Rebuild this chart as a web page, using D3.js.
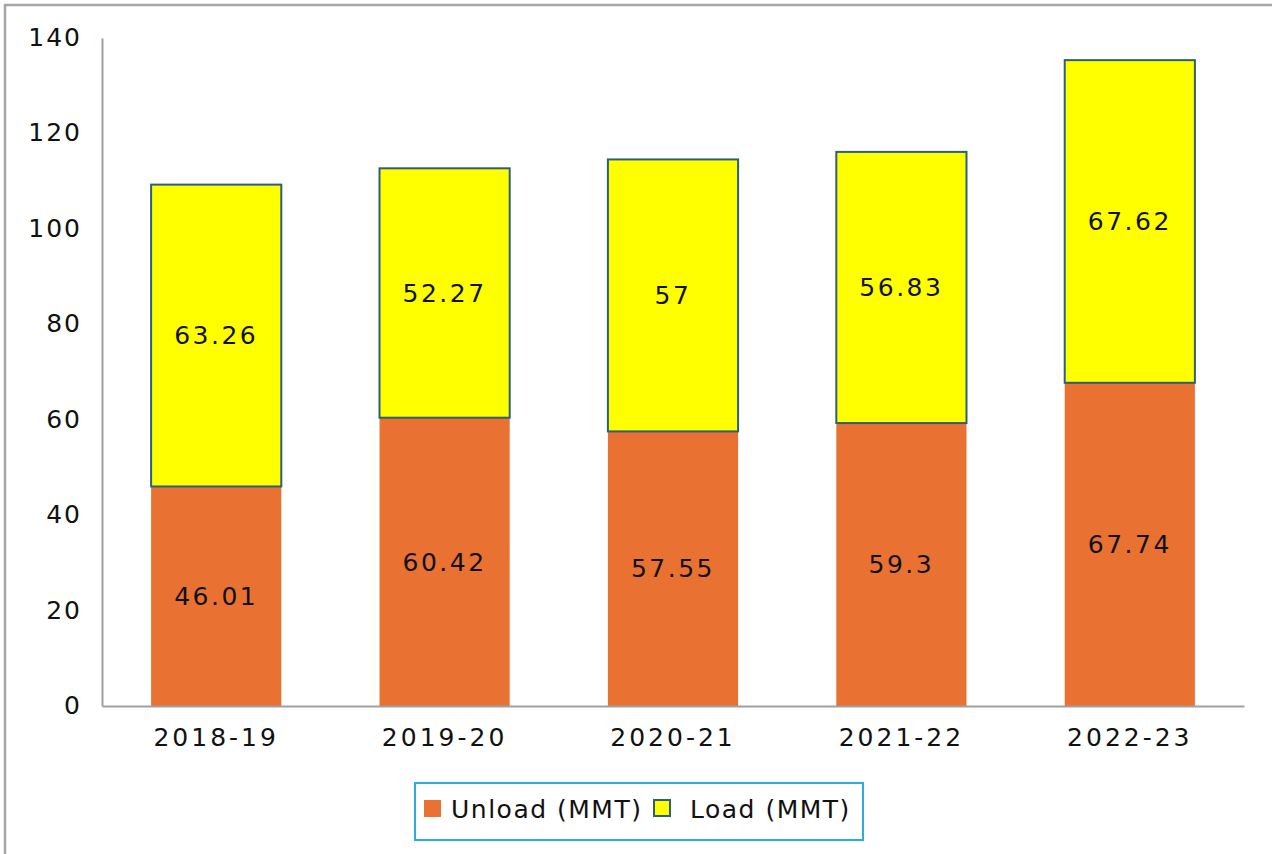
<!DOCTYPE html>
<html><head><meta charset="utf-8">
<script src="https://cdn.jsdelivr.net/npm/d3@7"></script>
<style>body{margin:0;background:#fff;overflow:hidden}</style>
</head><body>
<svg id="c" width="1272" height="854"></svg>
<script>
const categories = ["2018-19","2019-20","2020-21","2021-22","2022-23"];
const unload = [46.01, 60.42, 57.55, 59.3, 67.74];
const load = [63.26, 52.27, 57, 56.83, 67.62];
const seriesNames = ["Unload (MMT)", "Load (MMT)"];
const yTicks = [0,20,40,60,80,100,120,140];

const FONT = "'DejaVu Sans', sans-serif";
const svg = d3.select("#c");
// outer border
svg.append("rect").attr("x",5).attr("y",5).attr("width",1280).attr("height",870)
  .attr("fill","#fff").attr("stroke","#a6a6a6").attr("stroke-width",2.5);

const pLeft=102, pRight=1244, pTop=38, pBottom=706;
const x = d3.scaleBand().domain(categories).range([pLeft,pRight]).paddingInner(0.43).paddingOuter(0.215);
const y = d3.scaleLinear().domain([0,140]).range([pBottom,pTop]);

const data = categories.map((c,i)=>({cat:c, unload:unload[i], load:load[i]}));
const stack = d3.stack().keys(["unload","load"])(data);
const colors = {unload:"#E97132", load:"#FFFF00"};

stack.forEach(layer=>{
  const key = layer.key;
  svg.append("g").selectAll("rect").data(layer).join("rect")
    .attr("x",d=>x(d.data.cat)).attr("width",x.bandwidth())
    .attr("y",d=>y(d[1])).attr("height",d=>y(d[0])-y(d[1]))
    .attr("fill",colors[key])
    .attr("stroke",key==="load"?"#2b5f7a":"none").attr("stroke-width",2);
  svg.append("g").selectAll("text").data(layer).join("text")
    .attr("x",d=>x(d.data.cat)+x.bandwidth()/2)
    .attr("y",d=>y((d[0]+d[1])/2))
    .attr("dy","0.35em").attr("text-anchor","middle")
    .attr("font-family",FONT).attr("font-size",25).attr("letter-spacing",2.5).attr("fill","#111")
    .text(d=>d.data[key]);
});

// y axis
const yAxis = svg.append("g").attr("transform",`translate(${pLeft},0)`)
  .call(d3.axisLeft(y).tickValues(yTicks).tickSize(0).tickPadding(20));
yAxis.select(".domain").attr("stroke","#a0a0a0").attr("stroke-width",2);
yAxis.selectAll("text").attr("font-family",FONT).attr("font-size",25).attr("letter-spacing",2).attr("fill","#111")
  .attr("dy","0.3em");

// x axis
const xAxis = svg.append("g").attr("transform",`translate(0,${pBottom})`)
  .call(d3.axisBottom(x).tickSize(0).tickPadding(22));
xAxis.select(".domain").attr("stroke","#a0a0a0").attr("stroke-width",2);
xAxis.selectAll("text").attr("font-family",FONT).attr("font-size",25).attr("letter-spacing",3).attr("fill","#111");

// legend
const lg = svg.append("g");
lg.append("rect").attr("x",415).attr("y",783).attr("width",448).attr("height",57)
  .attr("fill","#fff").attr("stroke","#29aee0").attr("stroke-width",2);
lg.append("rect").attr("x",424).attr("y",800).attr("width",17).attr("height",17).attr("fill",colors.unload);
lg.append("text").attr("x",451).attr("y",809).attr("dy","0.35em")
  .attr("font-family",FONT).attr("font-size",25).attr("letter-spacing",1.5).attr("fill","#111").text(seriesNames[0]);
lg.append("rect").attr("x",654).attr("y",800).attr("width",16).attr("height",16)
  .attr("fill",colors.load).attr("stroke","#2b5f7a").attr("stroke-width",2);
lg.append("text").attr("x",690).attr("y",809).attr("dy","0.35em")
  .attr("font-family",FONT).attr("font-size",25).attr("letter-spacing",1.5).attr("fill","#111").text(seriesNames[1]);
</script>
</body></html>
